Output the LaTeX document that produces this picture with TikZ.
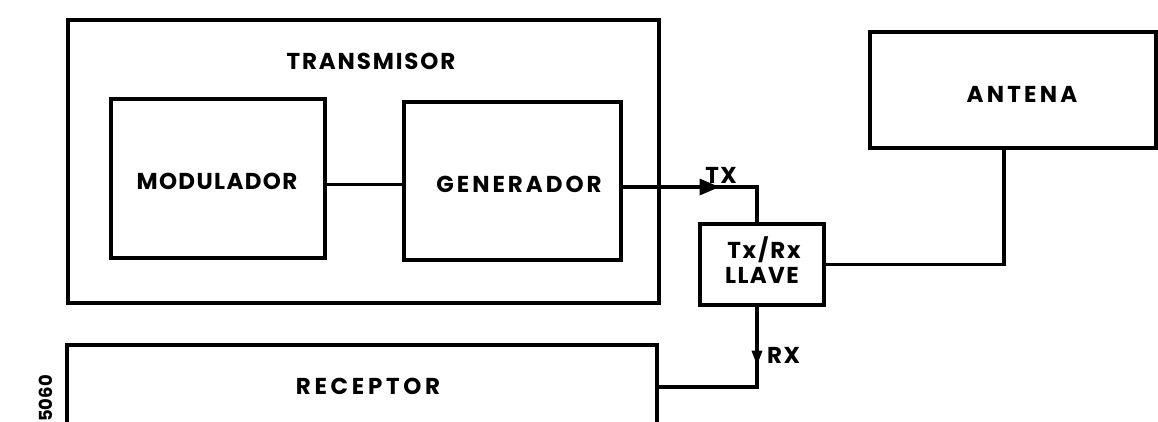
\documentclass[tikz,border=0pt]{standalone}
\usepackage{fontspec}
\setmainfont{Poppins}
\usetikzlibrary{arrows.meta,decorations.markings}
\begin{document}
\begin{tikzpicture}[x=1pt,y=-1pt,
  box/.style={draw,line width=3.2pt,inner sep=0pt},
  lbl/.style={font=\bfseries\fontsize{23}{25}\selectfont\addfontfeatures{LetterSpace=#1},inner sep=0pt},
  lbl/.default=6,
  conn/.style={line width=3.2pt}
]
\useasboundingbox (0,0) rectangle (1158,421);
\clip (0,0) rectangle (1158,421);
% boxes
\node[box,minimum width=591pt,minimum height=283pt] (tx) at (363.5,161.5) {};
\node[box,minimum width=214pt,minimum height=159pt] (mod) at (218,178.5) {};
\node[box,minimum width=217pt,minimum height=158pt] (gen) at (512.5,181) {};
\node[box,minimum width=124pt,minimum height=81pt] (txrx) at (762,264.5) {};
\node[box,minimum width=286pt,minimum height=116pt] (ant) at (1013,90) {};
\node[box,minimum width=590pt,minimum height=94pt] (rec) at (362,392) {};
% labels
\node[lbl=8,anchor=base] (ltx) at (371,69) {TRANSMISOR};
\node[lbl=6,anchor=base] (lmod) at (217,189) {MODULADOR};
\node[lbl=13,anchor=base] (lgen) at (519,192) {GENERADOR};
\node[lbl=14,anchor=base] (lant) at (1022,102) {ANTENA};
\node[lbl=16,anchor=base] (lrec) at (368,394) {RECEPTOR};
\node[lbl=8,anchor=base] (l1) at (764,258) {Tx/Rx};
\node[lbl=6,anchor=base] (l2) at (762,283) {LLAVE};
\node[lbl=6,anchor=base] (ltxa) at (721,183) {TX};
\node[lbl=6,anchor=base west] (lrxa) at (767,363) {RX};
\node[anchor=east,rotate=90,inner sep=0pt,font=\bfseries\fontsize{18}{20}\selectfont] (code) at (46,375) {5060};
% connectors
\draw[conn] ([yshift=-6pt]mod.east) -- ([yshift=-6pt]mod.east -| gen.west);
\draw[conn,postaction={decorate},decoration={markings,mark=at position 97pt with {\arrow{Triangle[length=20pt,width=16pt]}}}]
  ([yshift=-6pt]gen.east) -| ([xshift=-5pt]txrx.north);
\draw[conn,postaction={decorate},decoration={markings,mark=at position 59pt with {\arrow{Triangle[length=15pt,width=10pt]}}}]
  ([xshift=-5pt]txrx.south) |- ([yshift=5pt]rec.east);
\draw[conn] (txrx.east) -| ([xshift=-9pt]ant.south);
\end{tikzpicture}
\end{document}
